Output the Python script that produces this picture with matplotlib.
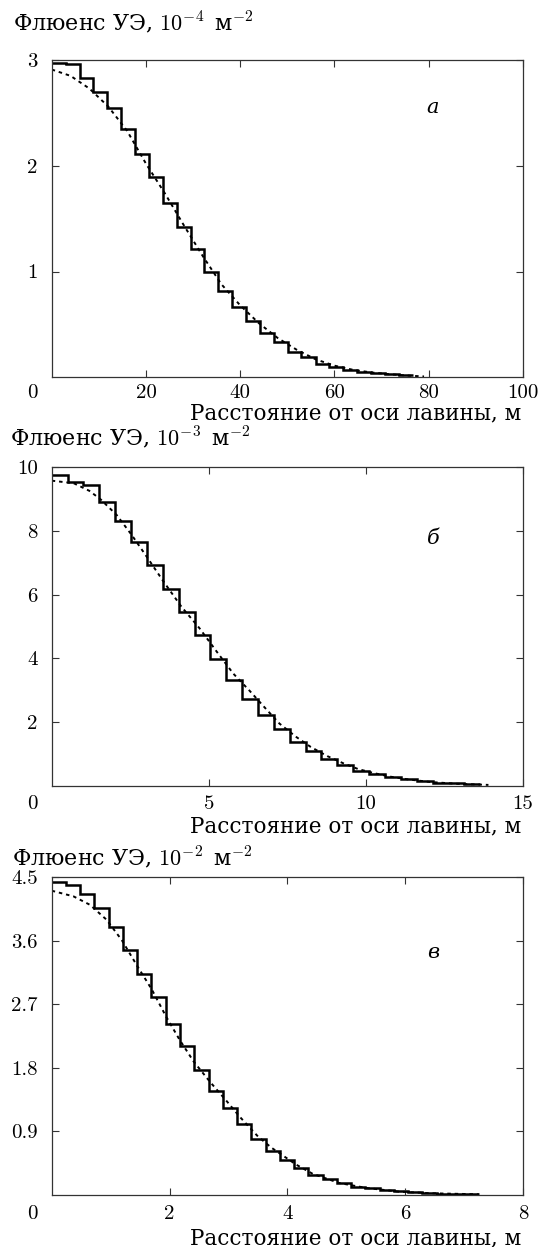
import matplotlib
matplotlib.use('Agg')
import matplotlib.pyplot as plt

plt.rcParams['font.family'] = ['DejaVu Serif']
plt.rcParams['mathtext.fontset'] = 'cm'

# ---------------- data ----------------
# panel а : x 0..100 m, fluence in 1e-4 m^-2
edges_a = [0, 2.95, 5.9, 8.85, 11.8, 14.7, 17.7, 20.6, 23.6, 26.5, 29.5, 32.4, 35.3,
           38.3, 41.2, 44.2, 47.1, 50.1, 53.0, 56.0, 58.9, 61.8, 64.8, 67.7, 70.7, 73.6, 76.6]
hist_a = [2.97, 2.96, 2.83, 2.70, 2.55, 2.35, 2.11, 1.89, 1.65, 1.42, 1.21, 1.00, 0.82,
          0.66, 0.53, 0.42, 0.33, 0.24, 0.19, 0.13, 0.10, 0.07, 0.053, 0.04, 0.03, 0.02]
fit_a_x = [0, 4, 8, 12, 16, 20, 24, 28, 32, 36, 40, 44, 48, 52, 56, 60, 64, 68, 72, 76, 79]
fit_a_y = [2.91, 2.85, 2.73, 2.56, 2.33, 2.02, 1.74, 1.44, 1.15, 0.88, 0.68, 0.51, 0.37,
           0.26, 0.17, 0.11, 0.07, 0.045, 0.028, 0.015, 0.008]

# panel б : x 0..15 m, fluence in 1e-3 m^-2
edges_b = [0, 0.505, 1.01, 1.515, 2.02, 2.525, 3.03, 3.535, 4.04, 4.545, 5.05, 5.555,
           6.06, 6.565, 7.07, 7.575, 8.08, 8.585, 9.09, 9.595, 10.1, 10.605, 11.11,
           11.615, 12.12, 12.625, 13.13, 13.635]
hist_b = [9.76, 9.55, 9.45, 8.90, 8.32, 7.66, 6.93, 6.18, 5.45, 4.73, 3.97, 3.31, 2.73,
          2.22, 1.78, 1.37, 1.09, 0.85, 0.64, 0.47, 0.36, 0.27, 0.20, 0.15, 0.10, 0.07, 0.045]
fit_b_x = [0, 0.7, 1.2, 1.56, 2.07, 2.55, 3.06, 3.56, 4.13, 4.7, 5.26, 5.78, 6.3, 6.83,
           7.25, 7.77, 8.24, 8.77, 9.29, 9.76, 10.28, 10.8, 11.33, 12.06, 12.9, 13.9]
fit_b_y = [9.58, 9.5, 9.26, 8.99, 8.5, 7.87, 7.14, 6.41, 5.62, 4.95, 4.2, 3.52, 2.98, 2.4,
           1.95, 1.54, 1.22, 0.93, 0.70, 0.52, 0.39, 0.28, 0.20, 0.115, 0.06, 0.025]

# panel в : x 0..8 m, fluence in 1e-2 m^-2
edges_c = [0, 0.242, 0.484, 0.726, 0.968, 1.21, 1.452, 1.694, 1.936, 2.178, 2.42, 2.662,
           2.904, 3.146, 3.388, 3.63, 3.872, 4.114, 4.356, 4.598, 4.84, 5.082, 5.324,
           5.566, 5.808, 6.05, 6.292, 6.534, 6.776, 7.018, 7.26]
hist_c = [4.43, 4.39, 4.26, 4.06, 3.79, 3.47, 3.13, 2.80, 2.42, 2.11, 1.77, 1.48, 1.23,
          1.00, 0.80, 0.63, 0.50, 0.38, 0.29, 0.22, 0.17, 0.12, 0.094, 0.07, 0.052,
          0.038, 0.028, 0.019, 0.014, 0.012]
fit_c_x = [0, 0.37, 0.65, 0.93, 1.19, 1.44, 1.7, 1.94, 2.17, 2.41, 2.69, 2.97, 3.19, 3.5,
           3.73, 4.15, 4.43, 4.88, 5.34, 5.9, 6.46, 7.25]
fit_c_y = [4.31, 4.23, 4.11, 3.9, 3.61, 3.26, 2.91, 2.53, 2.2, 1.89, 1.6, 1.33, 1.11, 0.83,
           0.67, 0.43, 0.30, 0.17, 0.10, 0.047, 0.024, 0.01]

xlims = [(0, 100), (0, 15), (0, 8)]
ylims = [(0, 3), (0, 10), (0, 4.5)]
xticks = [[20, 40, 60, 80, 100], [5, 10, 15], [2, 4, 6, 8]]
xticklabels = [['20', '40', '60', '80', '100'], ['5', '10', '15'], ['2', '4', '6', '8']]
yticks = [[1, 2, 3], [2, 4, 6, 8, 10], [0.9, 1.8, 2.7, 3.6, 4.5]]
yticklabels = [['1', '2', '3'], ['2', '4', '6', '8', '10'], ['0.9', '1.8', '2.7', '3.6', '4.5']]
ylabels = [r'Флюенс УЭ, $10^{-4}\,$ м$^{-2}$', r'Флюенс УЭ, $10^{-3}\,$ м$^{-2}$',
           r'Флюенс УЭ, $10^{-2}\,$ м$^{-2}$']
xlabel = 'Расстояние от оси лавины, м'
letters = ['а', 'б', 'в']

# ---------------- layout (pixels) ----------------
W, H = 541, 1247
fig = plt.figure(figsize=(W / 100, H / 100), dpi=100)
left_px, right_px = 51.7, 523
panels_px = [(60, 377.3), (467.3, 785.7), (877.3, 1195)]
ylabel_pos = [(13, 23), (10, 438), (12, 858)]
xlabel_y = [413, 826, 1238]
letter_pos = [(0.809, 0.85), (0.809, 0.777), (0.809, 0.764)]
xpads = [5, 7, 7]

data = [(edges_a, hist_a, fit_a_x, fit_a_y),
        (edges_b, hist_b, fit_b_x, fit_b_y),
        (edges_c, hist_c, fit_c_x, fit_c_y)]

FS = 15
for i, (edges, hist, fx, fy) in enumerate(data):
    top, bot = panels_px[i]
    ax = fig.add_axes([left_px / W, 1 - bot / H, (right_px - left_px) / W, (bot - top) / H])
    ax.stairs(hist, edges, baseline=None, color='black', linewidth=1.8)
    ax.plot(fx, fy, color='black', linewidth=1.4, linestyle=(0, (1.8, 2.0)))
    ax.set_xlim(*xlims[i])
    ax.set_ylim(*ylims[i])
    ax.set_xticks(xticks[i])
    ax.set_xticklabels(xticklabels[i], fontfamily='cmr10', fontsize=FS)
    ax.set_yticks(yticks[i])
    ax.set_yticklabels(yticklabels[i], fontfamily='cmr10', fontsize=FS)
    ax.tick_params(axis='both', direction='in', length=5, width=0.8, top=True, right=True,
                   color='#333333')
    ax.tick_params(axis='x', pad=xpads[i])
    ax.tick_params(axis='y', pad=10)
    for sp in ax.spines.values():
        sp.set_linewidth(0.9)
        sp.set_color('#333333')
    # shared origin label "0"
    ax.annotate('0', xy=(0, 0), xycoords='axes fraction', xytext=(-10, -xpads[i]),
                textcoords='offset points', ha='right', va='top',
                fontfamily='cmr10', fontsize=FS)
    ax.text(letter_pos[i][0], letter_pos[i][1], letters[i], transform=ax.transAxes,
            ha='center', va='center', fontsize=15, style='italic')
    lx, ly = ylabel_pos[i]
    fig.text(lx / W, 1 - ly / H, ylabels[i], ha='left', va='center', fontsize=16)
    fig.text(521 / W, 1 - xlabel_y[i] / H, xlabel, ha='right', va='center', fontsize=15.5)

fig.savefig('out.png', dpi=100)
